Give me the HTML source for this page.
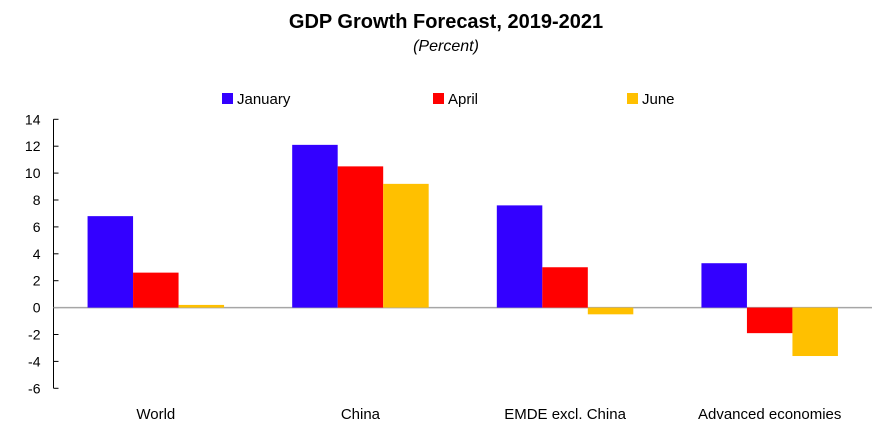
<!DOCTYPE html>
<html><head><meta charset="utf-8"><style>
body{margin:0;background:#fff;width:893px;height:439px;overflow:hidden;font-family:"Liberation Sans",sans-serif}
</style></head><body>
<svg width="893" height="439" xmlns="http://www.w3.org/2000/svg">
<text x="446" y="28" text-anchor="middle" font-size="20" font-weight="bold" fill="#000">GDP Growth Forecast, 2019-2021</text>
<text x="446" y="51" text-anchor="middle" font-size="16" font-style="italic" fill="#000">(Percent)</text>
<g id="legend"></g>
<g id="axis"></g>
<g id="bars"></g>
<g id="xlabels"></g>
</svg>
<script>
const categories=["World","China","EMDE excl. China","Advanced economies"];
const seriesNames=["January","April","June"];
const january=[6.8,12.1,7.6,3.3];
const april=[2.6,10.5,3.0,-1.9];
const june=[0.2,9.2,-0.5,-3.6];
const yTicks=[14,12,10,8,6,4,2,0,-2,-4,-6];
const colors=["#3300FF","#FF0000","#FFC000"];
const NS="http://www.w3.org/2000/svg";
const x0=53.5,xEnd=872,yTop=119.3,yBot=388.3,vmax=14,vmin=-6;
function y(v){return yTop+(vmax-v)/(vmax-vmin)*(yBot-yTop);}
const bandW=(xEnd-x0)/categories.length;
const barW=45.5;
function mk(tag,attrs,parent){const e=document.createElementNS(NS,tag);for(const k in attrs)e.setAttribute(k,attrs[k]);parent.appendChild(e);return e;}
const axis=document.getElementById('axis');
const a=mk('line',{x1:x0,y1:yTop,x2:x0,y2:yBot,stroke:'#000','stroke-width':1},axis);


yTicks.forEach(t=>{
  const l=mk('line',{x1:x0,y1:y(t),x2:x0+5,y2:y(t),stroke:'#000','stroke-width':1},axis);
  
  
  const tx=mk('text',{x:x0-13,y:y(t)+5,'text-anchor':'end','font-size':14,fill:'#000'},axis);
  tx.textContent=t;
  
  
});
const zl=mk('line',{x1:x0,y1:y(0),x2:xEnd,y2:y(0),stroke:'#A6A6A6','stroke-width':1.5},axis);


const bars=document.getElementById('bars');
const series=[january,april,june];
categories.forEach((c,i)=>{
  const gx=x0+i*bandW+(bandW-3*barW)/2;
  series.forEach((s,j)=>{
    const v=s[i];
    const r=mk('rect',{x:gx+j*barW,y:Math.min(y(v),y(0)),width:barW,height:Math.abs(y(v)-y(0)),fill:colors[j]},bars);
    
    
  });
  const t=mk('text',{x:x0+i*bandW+bandW/2,y:419,'text-anchor':'middle','font-size':15,fill:'#000'},document.getElementById('xlabels'));
  t.textContent=c;
  
  
});
const legend=document.getElementById('legend');
const lx=[222,433,627];
seriesNames.forEach((n,j)=>{
  const r=mk('rect',{x:lx[j],y:93,width:11,height:11,fill:colors[j]},legend);
  
  
  const t=mk('text',{x:lx[j]+15,y:104,'font-size':15,fill:'#000'},legend);
  t.textContent=n;
  
  
});
</script>
</body></html>
